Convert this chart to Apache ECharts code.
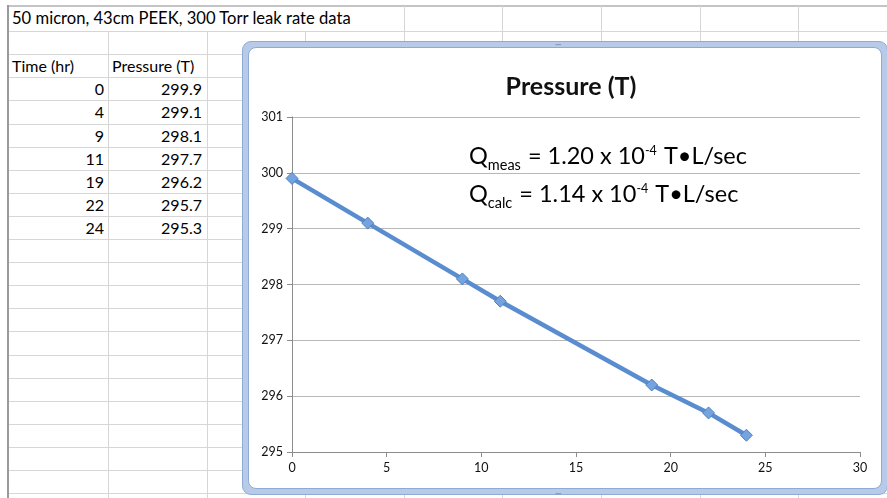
<!DOCTYPE html>
<html>
<head>
<meta charset="utf-8">
<script src="https://cdn.jsdelivr.net/npm/echarts@6/dist/echarts.min.js"></script>
<style>
  html, body { margin:0; padding:0; background:#fff; }
  body { width:887px; height:498px; overflow:hidden; position:relative; font-family: Lato, "Open Sans", sans-serif; }
  .hl { position:absolute; height:1px; background:#d6d6d6; }
  .vl { position:absolute; width:1px; background:#d6d6d6; }
  .cell { position:absolute; font-size:16px; color:#000; line-height:23px; white-space:nowrap; }
  #frame { position:absolute; left:242px; top:41px; width:646px; height:454px; box-sizing:border-box;
           background:#b7cbe8; border:1px solid #8fabd6; border-radius:9px; }
  #inner { position:absolute; left:5px; top:5px; right:5px; bottom:5px; background:#fff;
           border:1px solid #8eaad6; border-radius:8px; }
  .grip { position:absolute; font-size:9px; color:#7d97c2; letter-spacing:-1px; line-height:6px; }
  #chart { position:absolute; left:0; top:0; width:887px; height:498px; }
</style>
</head>
<body>
<div id="sheet"></div>
<div id="frame"><div id="inner"></div>
  <div class="grip" style="left:312px;top:-1px;">····</div>
  <div class="grip" style="left:312px;bottom:-2px;">····</div>
</div>
<div id="chart"></div>
<script>
// ---- data ----
var sheetTitle = "50 micron, 43cm PEEK, 300 Torr leak rate data";
var colHeaders = ["Time (hr)", "Pressure (T)"];
var timeHr = [0, 4, 9, 11, 19, 22, 24];
var pressureT = [299.9, 299.1, 298.1, 297.7, 296.2, 295.7, 295.3];
var chartTitle = "Pressure (T)";
var xTicks = [0, 5, 10, 15, 20, 25, 30];
var yTicks = [295, 296, 297, 298, 299, 300, 301];

// ---- spreadsheet background ----
var sheet = document.getElementById('sheet');
function add(cls, css, txt) {
  var d = document.createElement('div'); d.className = cls;
  for (var k in css) d.style[k] = css[k];
  if (txt !== undefined) d.textContent = txt;
  sheet.appendChild(d); return d;
}
var rowH = 23.1, row0 = 8;
var colX = [108, 206.6, 305.2, 403.8, 502.4, 601, 699.6, 798.2];
add('hl', {left:'8px', top:'5px', width:'879px', height:'2px', background:'#c4c4c4'});
add('vl', {left:'7px', top:'5px', height:'493px', width:'2px', background:'#9a9a9a'});
for (var k = 1; k <= 21; k++) {
  add('hl', {left:'9px', top:(row0 + rowH * k) + 'px', width:'878px'});
}
colX.forEach(function (x) {
  var top = x > 380 ? 6 : row0 + rowH;
  add('vl', {left:x + 'px', top:top + 'px', height:(498 - top) + 'px'});
});
function rowTop(k) { return k === 0 ? 6 : row0 + rowH * k; }
add('cell', {left:'12px', top:'6.5px', fontSize:'16.6px'}, sheetTitle);
add('cell', {left:'12px', top:rowTop(2) + 'px'}, colHeaders[0]);
add('cell', {left:'112px', top:rowTop(2) + 'px'}, colHeaders[1]);
timeHr.forEach(function (t, i) {
  add('cell', {right:(887 - 104) + 'px', top:rowTop(3 + i) + 'px'}, String(t));
  add('cell', {right:(887 - 202) + 'px', top:rowTop(3 + i) + 'px'}, pressureT[i].toFixed(1));
});

// ---- chart ----
var chart = echarts.init(document.getElementById('chart'), null, {renderer:'canvas'});
var labelFont = {fontFamily:'Lato, sans-serif', fontSize:12.5, color:'#111'};
var richQ = {
  q:{fontFamily:'Lato, sans-serif', fontSize:23.5, color:'#000', lineHeight:27},
  sub:{fontFamily:'Lato, sans-serif', fontSize:14.5, color:'#000', verticalAlign:'bottom', padding:[0,1,-3,0], lineHeight:27},
  sup:{fontFamily:'Lato, sans-serif', fontSize:12.5, color:'#000', verticalAlign:'top', padding:[1,1,0,0], lineHeight:27}
};
chart.setOption({
  backgroundColor:'transparent',
  animation:false,
  title: {
    text: chartTitle, left: 566, top: 69, textAlign:'center',
    textStyle: {fontFamily:'Lato, sans-serif', fontSize:25, fontWeight:'bold', color:'#111'}
  },
  grid: {left:292, right:27, top:117, bottom:46},
  xAxis: {
    type:'value', min:xTicks[0], max:xTicks[xTicks.length - 1], interval:xTicks[1] - xTicks[0],
    axisLine:{show:true, onZero:false, lineStyle:{color:'#8c8c8c', width:1}},
    axisTick:{show:true, length:5, lineStyle:{color:'#8c8c8c'}},
    splitLine:{show:false},
    axisLabel: Object.assign({margin:9}, labelFont)
  },
  yAxis: {
    type:'value', min:yTicks[0], max:yTicks[yTicks.length - 1], interval:yTicks[1] - yTicks[0],
    axisLine:{show:true, lineStyle:{color:'#8c8c8c', width:1}},
    axisTick:{show:true, length:5, lineStyle:{color:'#8c8c8c'}},
    splitLine:{show:true, lineStyle:{color:'#b8b8b8', width:1}},
    axisLabel: Object.assign({margin:9}, labelFont)
  },
  graphic: [
    {type:'text', x:469, y:143, style:{text:'{q|Q}{sub|meas}{q| = 1.20 x 10}{sup|-4}{q| T•L/sec}', rich:richQ}},
    {type:'text', x:469, y:181, style:{text:'{q|Q}{sub|calc}{q| = 1.14 x 10}{sup|-4}{q| T•L/sec}', rich:richQ}}
  ],
  series: [{
    type:'line',
    data: timeHr.map(function (t, i) { return [t, pressureT[i]]; }),
    lineStyle:{color:'#5a8dcf', width:4.5},
    symbol:'diamond', symbolSize:12,
    itemStyle:{color:'#74a3de', borderColor:'#4f81bd', borderWidth:1},
    z:3
  }]
});
</script>
</body>
</html>
